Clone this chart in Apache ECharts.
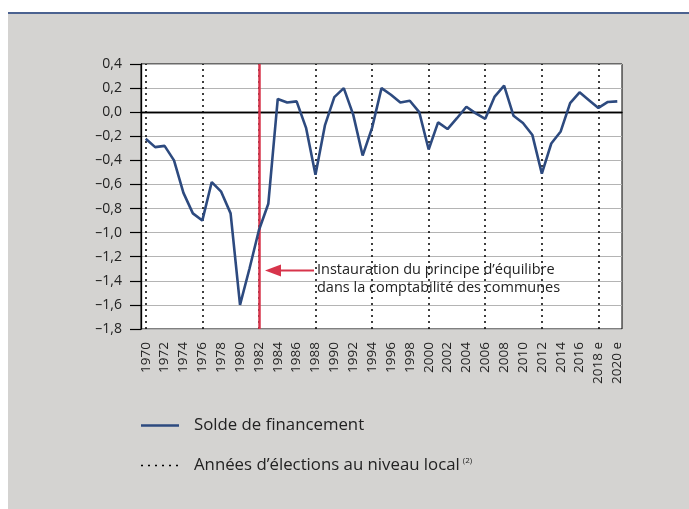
<!DOCTYPE html>
<html>
<head>
<meta charset="utf-8">
<script src="https://cdn.jsdelivr.net/npm/echarts@6/dist/echarts.min.js"></script>
<style>
  html, body { margin: 0; padding: 0; background: #fff; }
  #chart { width: 689px; height: 509px; }
</style>
</head>
<body>
<div id="chart"></div>
<script>
  var years = ['1970', '1971', '1972', '1973', '1974', '1975', '1976', '1977', '1978', '1979',
    '1980', '1981', '1982', '1983', '1984', '1985', '1986', '1987', '1988', '1989',
    '1990', '1991', '1992', '1993', '1994', '1995', '1996', '1997', '1998', '1999',
    '2000', '2001', '2002', '2003', '2004', '2005', '2006', '2007', '2008', '2009',
    '2010', '2011', '2012', '2013', '2014', '2015', '2016', '2017', '2018 e', '2019 e', '2020 e'];

  // Solde de financement
  var solde = [-0.22, -0.29, -0.28, -0.40, -0.67, -0.84, -0.90, -0.58, -0.66, -0.84,
    -1.60, -1.30, -0.98, -0.76, 0.11, 0.08, 0.09, -0.13, -0.52, -0.11,
    0.125, 0.20, -0.02, -0.36, -0.13, 0.20, 0.145, 0.08, 0.095, 0.0,
    -0.31, -0.085, -0.14, -0.05, 0.045, -0.01, -0.055, 0.13, 0.22, -0.03,
    -0.09, -0.19, -0.51, -0.26, -0.16, 0.075, 0.165, 0.10, 0.035, 0.085, 0.09];

  // Années d'élections au niveau local
  var elections = ['1970', '1976', '1982', '1988', '1994', '2000', '2006', '2012', '2018 e'];
  var reformYear = '1982';

  var font = 'Open Sans';
  var markData = elections.map(function(y) {
    return { xAxis: y, lineStyle: { color: '#000', type: [2, 4], width: 1.5 } };
  });
  markData.push({ yAxis: 0, lineStyle: { color: '#000', type: 'solid', width: 1.3 } });
  markData.push({ xAxis: reformYear, lineStyle: { color: '#d7344b', type: 'solid', width: 2.5 } });

  function txt(x, y, s, size, rich) {
    return {
      type: 'text', x: x, y: y, z: 10,
      style: { text: s, fill: '#222', fontSize: size, fontFamily: font, verticalAlign: 'middle', rich: rich }
    };
  }

  var option = {
    backgroundColor: '#d4d3d1',
    animation: false,
    textStyle: { fontFamily: font },
    grid: {
      left: 141,
      right: 67,
      top: 64,
      bottom: 180,
      show: true,
      backgroundColor: '#fff',
      borderColor: '#000',
      borderWidth: 1
    },
    xAxis: {
      type: 'category',
      data: years,
      boundaryGap: true,
      axisLine: { lineStyle: { color: '#000', width: 1.3 } },
      axisTick: { inside: true, length: 9, interval: 0, lineStyle: { color: '#000', width: 1.2 } },
      axisLabel: {
        interval: 1,
        rotate: 90,
        margin: 13,
        color: '#222',
        fontSize: 13.5,
        fontFamily: font
      },
      splitLine: { show: false }
    },
    yAxis: {
      type: 'value',
      min: -1.8,
      max: 0.4,
      interval: 0.2,
      axisLine: { show: true, lineStyle: { color: '#000', width: 1.3 } },
      axisTick: { show: true, inside: false, length: 11, lineStyle: { color: '#000', width: 1.2 } },
      axisLabel: {
        color: '#222',
        fontSize: 14,
        margin: 19,
        fontFamily: font,
        formatter: function(v) {
          return v.toFixed(1).replace('.', ',').replace('-', '\u2013');
        }
      },
      splitLine: { show: true, lineStyle: { color: '#b4b4b4', width: 1.2 } }
    },
    series: [{
      name: 'Solde de financement',
      type: 'line',
      data: solde,
      showSymbol: false,
      symbol: 'none',
      lineStyle: { color: '#2d4a7f', width: 2.6 },
      z: 5,
      markLine: {
        silent: true,
        symbol: ['none', 'none'],
        label: { show: false },
        z: 3,
        data: markData
      }
    }],
    graphic: [
      { type: 'rect', shape: { x: 0, y: 0, width: 689, height: 12 }, style: { fill: '#fff' }, silent: true },
      { type: 'rect', shape: { x: 0, y: 0, width: 8, height: 509 }, style: { fill: '#fff' }, silent: true },
      { type: 'line', shape: { x1: 8, y1: 13, x2: 689, y2: 13 }, style: { stroke: '#4b6290', lineWidth: 2 }, silent: true },
      // annotation
      { type: 'line', shape: { x1: 278, y1: 270.5, x2: 314, y2: 270.5 }, style: { stroke: '#d7344b', lineWidth: 2 }, z: 10 },
      { type: 'polygon', shape: { points: [[265, 270.5], [281, 264.5], [281, 276.5]] }, style: { fill: '#d7344b' }, z: 10 },
      txt(317, 270, 'Instauration du principe d\u2019équilibre', 14.5),
      txt(317, 288, 'dans la comptabilité des communes', 14.5),
      // legend
      { type: 'line', shape: { x1: 141, y1: 425.5, x2: 179, y2: 425.5 }, style: { stroke: '#2d4a7f', lineWidth: 2.6 } },
      txt(194, 425.5, 'Solde de financement', 16.8),
      { type: 'line', shape: { x1: 141, y1: 465.5, x2: 178, y2: 465.5 }, style: { stroke: '#000', lineWidth: 1.5, lineDash: [2, 5] } },
      txt(194, 465.5, '{a|Années d\u2019élections au niveau local}{s|(2)}', 16.8, {
        a: { fontSize: 16.8, fontFamily: font, fill: '#222' },
        s: { fontSize: 8, fontFamily: font, fill: '#222', verticalAlign: 'top', padding: [0, 0, 0, 3] }
      })
    ]
  };

  var chart = echarts.init(document.getElementById('chart'));
  chart.setOption(option);
</script>
</body>
</html>
